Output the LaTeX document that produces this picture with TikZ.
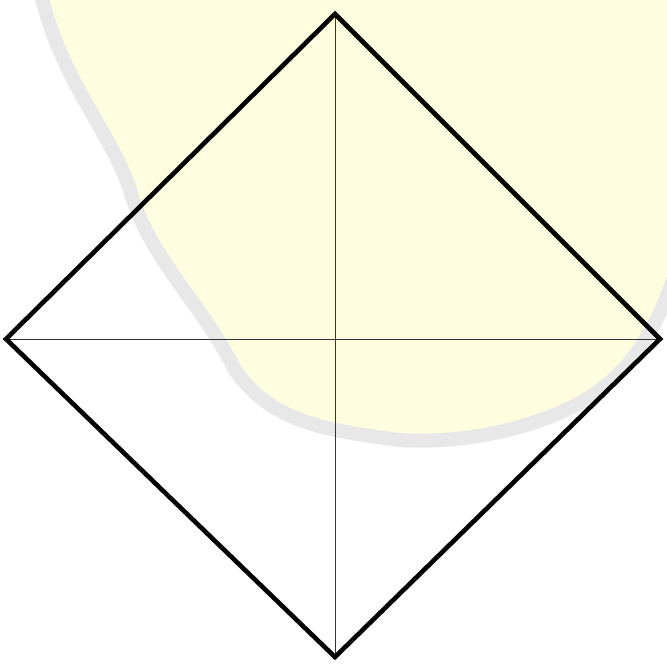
\documentclass[tikz,border=0pt]{standalone}
\begin{document}
\begin{tikzpicture}[x=1pt,y=-1pt,
  edge/.style={line width=4.6pt,line join=miter,black},
  diag/.style={line width=1pt,black!80},
  wm/.style={fill=yellow!12,draw=black!9,line width=14pt,line join=round}]
\useasboundingbox (0,0) rectangle (667,664);
\fill[white] (0,0) rectangle (667,664);
% faint watermark
\path[wm] (40,-10) .. controls (60,80) and (110,130) .. (130,190)
  .. controls (150,260) and (200,300) .. (235,370)
  .. controls (270,420) and (320,430) .. (400,440)
  .. controls (480,445) and (560,420) .. (600,390)
  .. controls (640,360) and (660,320) .. (680,260)
  -- (680,-10) -- cycle;
\node[coordinate] (t) at (335,14) {};
\node[coordinate] (l) at (6,339) {};
\node[coordinate] (r) at (660,339) {};
\node[coordinate] (b) at (335,657) {};
\draw[diag] (t) -- (b);
\draw[diag] (l) -- (r);
\draw[edge] (t) -- (r) -- (b) -- (l) -- cycle;
\end{tikzpicture}
\end{document}
